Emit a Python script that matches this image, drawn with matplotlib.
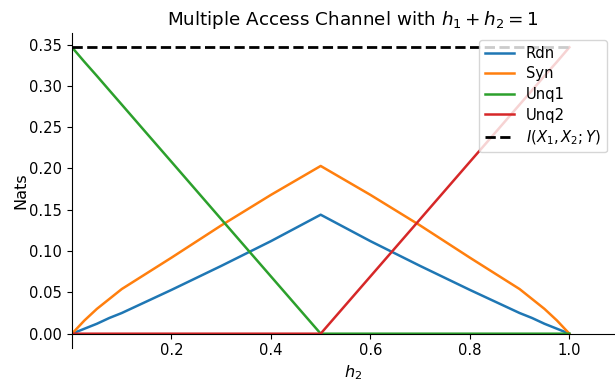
import matplotlib
matplotlib.use("Agg")
import matplotlib.pyplot as plt

# h2 grid and the measured information terms (nats)
h2 = [0.0, 0.025, 0.05, 0.075, 0.1, 0.15, 0.2, 0.3, 0.4, 0.5,
      0.6, 0.7, 0.8, 0.85, 0.9, 0.925, 0.95, 0.975, 1.0]
rdn = [0.0, 0.006, 0.012, 0.019, 0.025, 0.039, 0.053, 0.082, 0.112, 0.144,
       0.112, 0.082, 0.053, 0.039, 0.025, 0.019, 0.012, 0.006, 0.0]
syn = [0.0, 0.016, 0.030, 0.042, 0.054, 0.073, 0.092, 0.131, 0.168, 0.203,
       0.168, 0.131, 0.092, 0.073, 0.054, 0.042, 0.030, 0.016, 0.0]
unq1 = [0.3466, 0.329, 0.312, 0.2946, 0.2773, 0.2426, 0.208, 0.1386, 0.0693, 0.0,
        0.0, 0.0, 0.0, 0.0, 0.0, 0.0, 0.0, 0.0, 0.0]
unq2 = [0.0, 0.0, 0.0, 0.0, 0.0, 0.0, 0.0, 0.0, 0.0, 0.0,
        0.0693, 0.1386, 0.208, 0.2426, 0.2773, 0.2946, 0.312, 0.329, 0.3466]
mi = [0.3466] * len(h2)

plt.rcParams["font.size"] = 10.6

fig = plt.figure(figsize=(6.15, 3.83), dpi=100)
ax = fig.add_axes([72 / 615, 35 / 383, 562 / 615, 315 / 383])

ax.plot(h2, rdn, lw=1.8, label="Rdn")
ax.plot(h2, syn, lw=1.8, label="Syn")
ax.plot(h2, unq1, lw=1.8, label="Unq1")
ax.plot(h2, unq2, lw=1.8, label="Unq2")
ax.plot(h2, mi, "k--", lw=2, label="$I(X_1,X_2;Y)$")

ax.set_xlim(0, 1.13)
ax.set_xticks([0.2, 0.4, 0.6, 0.8, 1.0])
ax.spines["bottom"].set_position(("data", 0))
ax.spines["top"].set_visible(False)
ax.spines["right"].set_visible(False)

ax.set_title("Multiple Access Channel with $h_1 + h_2 = 1$", fontsize=13.2)
ax.set_xlabel("$h_2$", fontsize=11.6)
ax.xaxis.set_label_coords(0.5, -0.05)
ax.set_ylabel("Nats", fontsize=11.6, labelpad=1)
ax.legend(loc="upper right", bbox_to_anchor=(0.952, 0.978), borderaxespad=0,
          labelspacing=0.38)

fig.savefig("out.png", dpi=100)
